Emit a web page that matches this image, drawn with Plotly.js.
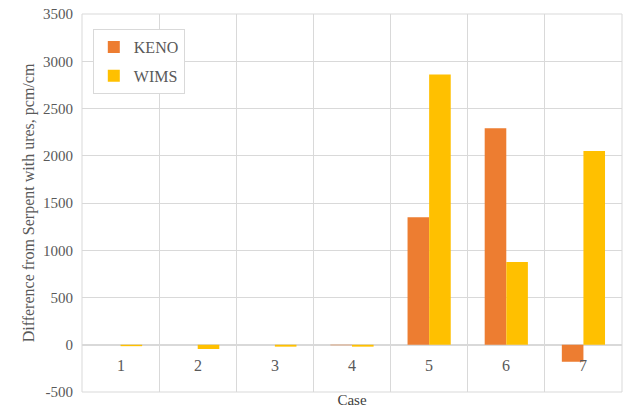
<!DOCTYPE html>
<html>
<head>
<meta charset="utf-8">
<script src="https://cdn.plot.ly/plotly-3.0.1.min.js"></script>
<style>html,body{margin:0;padding:0;background:#fff;}</style>
</head>
<body>
<div id="chart" style="width:629px;height:414px;"></div>
<script>
const cases = ['1', '2', '3', '4', '5', '6', '7'];
const kenoValues = [0, 0, 0, -5, 1350, 2290, -180];
const wimsValues = [-15, -45, -20, -20, 2860, 875, 2050];
const seriesNames = ['KENO', 'WIMS'];
const yTickVals = [-500, 0, 500, 1000, 1500, 2000, 2500, 3000, 3500];

const fam = '"Liberation Serif", "Times New Roman", "DejaVu Serif", serif';
const font = {family: fam, color: '#595959', size: 15};

const traces = [
  {type: 'bar', name: seriesNames[0], legendgroup: 'g1', x: cases, y: kenoValues,
   marker: {color: '#ED7D31', line: {width: 0}}},
  {type: 'bar', name: seriesNames[1], legendgroup: 'g2', x: cases, y: wimsValues,
   marker: {color: '#FFC000', line: {width: 0}}}
];

const annotations = cases.map((c, i) => ({
  x: i, y: 0, xref: 'x', yref: 'y', text: c, showarrow: false,
  yanchor: 'top', yshift: -10, font: {family: fam, size: 16, color: '#595959'}
}));

const layout = {
  width: 629, height: 414,
  margin: {l: 82, r: 7, t: 14, b: 22},
  paper_bgcolor: '#fff', plot_bgcolor: '#fff',
  font: font,
  barmode: 'group', bargap: 0.44, bargroupgap: 0,
  showlegend: true,
  legend: {x: 0.02, y: 0.96, xanchor: 'left', yanchor: 'top',
           bordercolor: '#D9D9D9', borderwidth: 1, bgcolor: '#fff',
           font: {family: fam, size: 16, color: '#595959'},
           traceorder: 'grouped', itemwidth: 30, tracegroupgap: 5},
  xaxis: {type: 'category', range: [-0.5, cases.length - 0.5], tickson: 'boundaries',
          showgrid: true, gridcolor: '#D9D9D9', gridwidth: 1,
          showticklabels: false, ticks: '', zeroline: false, showline: false,
          title: {text: 'Case', font: {family: fam, size: 15, color: '#404040'}, standoff: 2}},
  yaxis: {range: [-500, 3500], tickvals: yTickVals, ticktext: yTickVals.map(String),
          showgrid: true, gridcolor: '#D9D9D9', gridwidth: 1,
          zeroline: true, zerolinecolor: '#D9D9D9', zerolinewidth: 1.5,
          showline: false, ticks: '', ticklabelstandoff: 8,
          tickfont: {family: fam, size: 15, color: '#595959'},
          title: {text: 'Difference from Serpent with ures, pcm/cm',
                  font: {family: fam, size: 16, color: '#595959'}, standoff: 4}},
  annotations: annotations,
  shapes: [{type: 'rect', xref: 'paper', yref: 'paper', x0: 0, x1: 1, y0: 0, y1: 1,
            line: {color: '#D9D9D9', width: 1}, layer: 'below'}]
};

Plotly.newPlot('chart', traces, layout, {displayModeBar: false, staticPlot: true});
</script>
</body>
</html>
